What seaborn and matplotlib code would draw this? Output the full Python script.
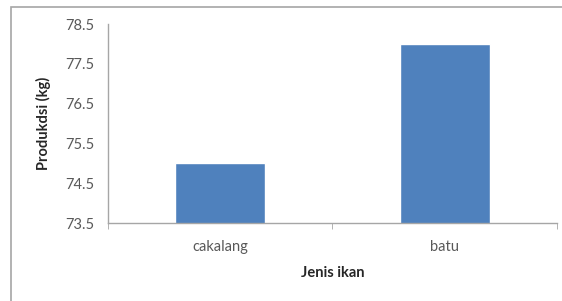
# Produksi ikan bar chart

import numpy as np
import pandas as pd
import seaborn as sns
import matplotlib.pyplot as plt
from matplotlib.patches import Rectangle

# data
jenis_ikan = ['cakalang', 'batu']
produksi = [75.0, 78.0]
y_ticks = [73.5, 74.5, 75.5, 76.5, 77.5, 78.5]

df = pd.DataFrame({'Jenis ikan': jenis_ikan, 'Produksi': produksi})

sns.set_style('white')
plt.rcParams['font.family'] = ['Lato', 'DejaVu Sans']

fig = plt.figure(figsize=(5.62, 3.01), dpi=100)
ax = fig.add_axes([0.192, 0.259, 0.799, 0.661])

# outer chart border (cropped on right and bottom)
fig.patches.append(Rectangle((11 / 562, -0.05), 1.1, (301 - 7) / 301 + 0.05,
                             transform=fig.transFigure, fill=False,
                             edgecolor='#a6a6a6', linewidth=1.2))

sns.barplot(data=df, x='Jenis ikan', y='Produksi', color='#4f81bd',
            saturation=1, width=0.4, ax=ax)

ax.set_ylim(73.5, 78.5)
ax.set_xlim(-0.5, 1.5)
ax.set_yticks(y_ticks)
ax.set_yticklabels([f'{v:.1f}' for v in y_ticks])
ax.set_xticks([-0.5, 0.5, 1.5], minor=True)

ax.tick_params(axis='y', which='major', direction='out', length=4,
               color='#a6a6a6', labelcolor='#595959', labelsize=10.5, pad=6)
ax.tick_params(axis='x', which='major', length=0, labelcolor='#595959',
               labelsize=10.5, pad=12)
ax.tick_params(axis='x', which='minor', direction='out', length=4,
               color='#a6a6a6', bottom=True)

for s in ['top', 'right']:
    ax.spines[s].set_visible(False)
for s in ['left', 'bottom']:
    ax.spines[s].set_color('#a6a6a6')
    ax.spines[s].set_linewidth(1.0)

ax.set_xlabel('Jenis ikan', fontsize=10.5, fontweight='bold', labelpad=9)
ax.set_ylabel('Produkdsi (kg)', fontsize=10.5, fontweight='bold', labelpad=10)

plt.savefig('out.png', dpi=100)
